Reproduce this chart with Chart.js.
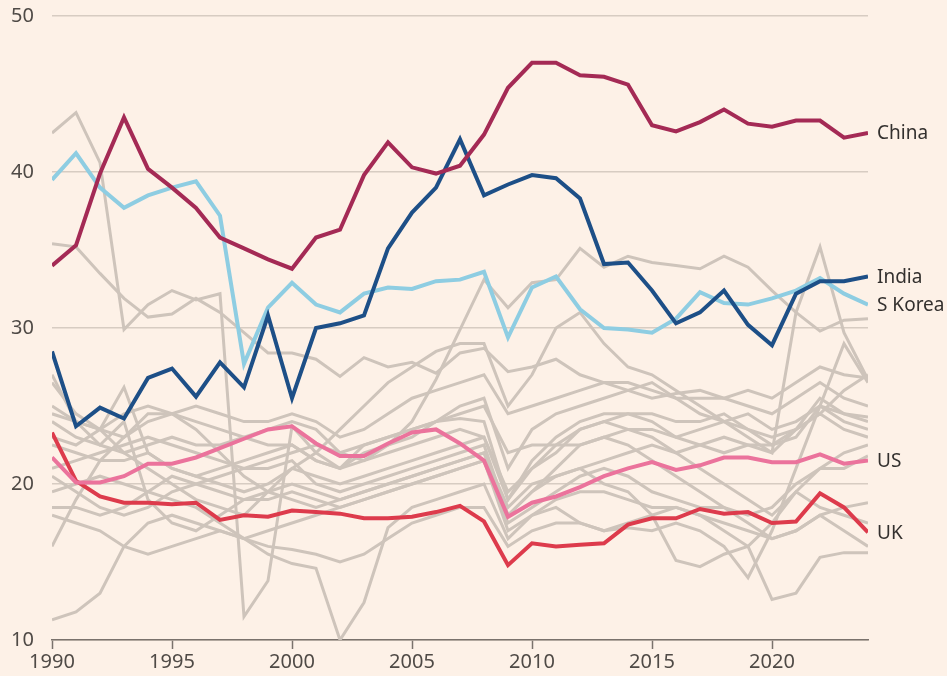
<!DOCTYPE html>
<html>
<head>
    <title>Share of GDP chart</title>
    <style>
        body{
            margin: 0;
            background: #fdf1e7;
        }
        canvas{
            display: block;
        }
    </style>
</head>
<body>
<div style="width:947px;height:676px;">
    <canvas id="chart" width="947" height="676"></canvas>
</div>

<script src="https://cdn.jsdelivr.net/npm/chart.js@4.4.1/dist/chart.umd.min.js"></script>
<script>

    const years = [1990,1991,1992,1993,1994,1995,1996,1997,1998,1999,2000,2001,2002,2003,2004,2005,2006,2007,2008,2009,2010,2011,2012,2013,2014,2015,2016,2017,2018,2019,2020,2021,2022,2023,2024];

    const china = [34.0,35.3,39.9,43.5,40.2,39.0,37.7,35.8,35.1,34.4,33.8,35.8,36.3,39.8,41.9,40.3,39.9,40.4,42.4,45.4,47.0,47.0,46.2,46.1,45.6,43.0,42.6,43.2,44.0,43.1,42.9,43.3,43.3,42.2,42.5];
    const india = [28.5,23.7,24.9,24.2,26.8,27.4,25.6,27.8,26.2,30.8,25.5,30.0,30.3,30.8,35.1,37.4,39.0,42.1,38.5,39.2,39.8,39.6,38.3,34.1,34.2,32.4,30.3,31.0,32.4,30.2,28.9,32.2,33.0,33.0,33.3];
    const sKorea = [39.5,41.2,39.0,37.7,38.5,39.0,39.4,37.2,27.7,31.3,32.9,31.5,31.0,32.2,32.6,32.5,33.0,33.1,33.6,29.4,32.6,33.3,31.2,30.0,29.9,29.7,30.6,32.3,31.6,31.5,31.9,32.4,33.2,32.2,31.5];
    const us = [21.7,20.1,20.1,20.5,21.3,21.3,21.7,22.3,22.9,23.5,23.7,22.6,21.8,21.8,22.6,23.3,23.5,22.6,21.5,17.9,18.8,19.2,19.8,20.5,21.0,21.4,20.9,21.2,21.7,21.7,21.4,21.4,21.9,21.3,21.5];
    const uk = [23.3,20.2,19.2,18.8,18.8,18.7,18.8,17.7,18.0,17.9,18.3,18.2,18.1,17.8,17.8,17.9,18.2,18.6,17.6,14.8,16.2,16.0,16.1,16.2,17.4,17.8,17.8,18.4,18.1,18.2,17.5,17.6,19.4,18.5,16.9];

    // other countries, drawn in grey
    const grey1 = [42.5,43.8,40.6,29.9,31.5,32.4,31.8,32.2,11.5,13.8,23.7,22.0,21.0,22.5,23.0,23.5,24.0,24.2,24.0,19.0,21.5,23.0,24.0,24.5,24.5,24.0,23.0,23.5,24.0,24.5,23.5,24.0,25.0,24.5,24.3];
    const grey2 = [35.4,35.2,33.5,31.9,30.7,30.9,31.9,31.0,29.7,28.4,28.4,28.0,26.9,28.1,27.5,27.8,27.1,28.4,28.7,27.2,27.5,28.0,27.0,26.5,26.0,25.5,25.8,26.0,25.5,25.0,24.5,25.5,26.5,25.5,25.0];
    const grey3 = [11.3,11.8,13.0,16.0,17.5,18.0,17.5,17.0,16.5,16.0,15.8,15.5,15.0,15.5,16.5,17.5,18.0,18.5,18.5,16.0,17.0,17.5,17.5,17.0,17.2,17.0,17.5,17.0,16.0,14.0,17.0,21.0,25.0,29.0,26.5];
    const grey4 = [18.0,17.5,17.0,16.0,15.5,16.0,16.5,17.0,16.5,15.5,14.9,14.6,10.0,12.4,17.2,18.5,19.0,19.5,20.0,16.5,18.0,18.5,17.5,17.0,17.5,18.0,18.5,18.0,17.0,16.0,17.5,19.5,18.5,18.0,17.5];
    const grey5 = [24.5,24.0,23.5,24.5,25.0,24.5,24.0,23.5,23.0,22.5,22.5,21.5,21.0,22.0,22.5,23.0,24.0,25.0,25.5,21.0,23.5,24.5,25.0,25.5,26.0,26.5,25.5,24.5,24.0,23.0,22.0,31.0,35.2,29.7,26.7];
    const grey6 = [21.0,21.5,22.0,22.5,23.0,22.5,22.0,21.5,21.0,21.5,22.0,22.5,22.0,21.5,22.5,24.0,26.7,29.9,33.1,31.3,32.9,33.1,35.1,33.9,34.6,34.2,34.0,33.8,34.6,33.9,32.4,31.0,29.8,30.5,30.6];
    const grey7 = [26.5,24.5,23.5,26.2,22.0,21.0,20.5,20.0,19.5,20.0,21.0,22.0,23.5,25.0,26.5,27.5,28.5,29.0,29.0,25.0,27.0,30.0,31.0,29.0,27.5,27.0,26.0,25.0,24.0,23.5,23.0,23.5,24.5,26.0,27.0];
    const grey8 = [24.0,23.0,22.5,22.0,22.5,23.0,22.5,22.5,23.0,23.5,24.0,23.5,22.0,22.5,23.0,23.5,24.0,24.5,25.0,22.0,22.5,22.5,22.5,23.0,23.5,23.5,23.0,22.5,22.0,22.5,22.5,23.5,24.5,23.5,23.0];
    const grey9 = [22.5,22.0,21.5,21.5,22.0,21.0,20.5,21.0,21.5,22.0,22.5,21.5,21.0,21.5,22.0,22.5,23.0,23.5,23.0,19.5,21.0,22.0,23.5,24.0,24.5,24.5,24.0,24.0,24.5,23.5,22.5,23.0,25.0,24.0,23.5];
    const grey10 = [20.5,19.5,18.5,18.0,18.5,19.5,20.0,20.5,21.0,21.0,21.5,20.0,19.5,20.0,20.5,21.0,21.5,22.0,22.5,18.0,19.5,20.5,21.0,21.5,22.0,22.5,22.0,22.5,23.0,22.5,22.0,23.5,25.5,24.5,24.0];
    const grey11 = [18.5,18.5,18.0,18.5,19.5,20.5,20.0,19.5,19.0,19.0,19.5,19.0,18.5,19.0,19.5,20.0,20.5,21.0,21.5,17.5,18.5,19.5,20.5,21.0,20.5,19.5,19.0,18.5,18.5,18.0,18.5,20.0,21.0,21.0,21.8];
    const grey12 = [25.0,24.0,23.5,23.0,24.5,24.5,25.0,24.5,24.0,24.0,24.5,24.0,23.0,23.5,24.5,25.5,26.0,26.5,27.0,24.5,25.0,25.5,26.0,26.5,26.5,26.0,25.5,25.5,25.5,26.0,25.5,26.5,27.5,27.0,26.8];
    const grey13 = [27.0,24.0,22.5,24.0,19.0,17.5,17.0,18.0,19.0,19.5,20.0,19.5,19.0,19.5,20.0,20.5,21.0,21.5,22.0,18.5,20.0,20.5,21.0,20.0,19.5,18.0,15.1,14.7,15.5,16.0,12.6,13.0,15.3,15.6,15.6];
    const grey14 = [16.0,19.0,21.5,23.0,24.0,24.5,23.5,22.0,20.5,19.5,19.0,18.5,19.0,19.5,20.0,20.5,21.0,21.5,22.0,18.0,19.5,21.0,22.5,23.0,22.5,21.5,20.5,19.5,18.5,17.5,16.5,17.0,18.0,17.0,16.0];
    const grey15 = [23.0,22.5,23.5,22.0,21.0,20.0,19.0,18.5,18.0,19.5,21.0,20.5,20.0,20.5,21.0,21.5,22.0,22.5,23.0,19.0,21.0,22.5,23.5,24.0,23.5,23.0,22.0,21.0,20.0,19.0,18.0,19.5,21.0,22.0,22.5];
    const grey16 = [19.5,20.0,20.5,20.0,19.5,19.0,18.5,17.5,16.5,17.0,17.5,18.0,18.5,19.0,19.5,20.0,20.5,21.0,21.5,17.0,18.0,19.0,19.5,19.5,19.0,18.5,18.5,18.0,17.5,17.0,16.5,17.0,18.0,18.5,18.8];

    const greys = [grey1, grey2, grey3, grey4, grey5, grey6, grey7, grey8, grey9, grey10, grey11, grey12, grey13, grey14, grey15, grey16];

    const yTicks = [10, 20, 30, 40, 50];
    const xTicks = [1990, 1995, 2000, 2005, 2010, 2015, 2020];

    const fontName = "'Noto Sans', 'Open Sans', sans-serif";

    function toPoints(values) {
        return values.map((v, i) => ({x: years[i], y: v}));
    }

    function highlight(label, values, color) {
        return {
            label: label,
            data: toPoints(values),
            borderColor: color,
            borderWidth: 4,
            pointRadius: 0,
            tension: 0,
            fill: false
        };
    }

    // first dataset is drawn on top, so the coloured ones go first
    const datasets = [
        highlight("China", china, "#a42a55"),
        highlight("India", india, "#1d4f87"),
        highlight("S Korea", sKorea, "#8ecde2"),
        highlight("US", us, "#eb739c"),
        highlight("UK", uk, "#dd3b4c")
    ];

    greys.forEach((g, i) => {
        datasets.push({
            label: "other" + i,
            data: toPoints(g),
            borderColor: "#cec4bb",
            borderWidth: 3,
            pointRadius: 0,
            tension: 0,
            fill: false
        });
    });

    // names at the end of the coloured lines
    const endLabels = {
        id: "endLabels",
        afterDatasetsDraw(chart) {
            const ctx = chart.ctx;
            const yScale = chart.scales.y;
            ctx.save();
            ctx.font = "19px " + fontName;
            ctx.fillStyle = "#33302e";
            ctx.textBaseline = "middle";
            ctx.textAlign = "left";
            for (let i = 0; i < 5; i++) {
                const ds = chart.data.datasets[i];
                const last = ds.data[ds.data.length - 1].y;
                ctx.fillText(ds.label, chart.chartArea.right + 9, yScale.getPixelForValue(last) + 1);
            }
            ctx.restore();
        }
    };

    const chart = new Chart("chart", {
        type: "line",
        data: { datasets: datasets },
        options: {
            responsive: false,
            animation: false,
            layout: { padding: { top: 16, right: 79, left: 0, bottom: 0 } },
            plugins: {
                legend: { display: false },
                tooltip: { enabled: false }
            },
            scales: {
                x: {
                    type: "linear",
                    min: 1990,
                    max: 2024,
                    afterBuildTicks: scale => {
                        scale.ticks = xTicks.map(v => ({value: v}));
                    },
                    afterFit: scale => {
                        scale.height = 36;
                        scale.paddingLeft = 0;
                        scale.paddingRight = 0;
                    },
                    ticks: {
                        callback: v => String(v),
                        color: "#4f4a46",
                        font: { family: fontName, size: 20 },
                        padding: 1,
                        maxRotation: 0
                    },
                    grid: {
                        drawOnChartArea: false,
                        drawTicks: true,
                        tickLength: 9,
                        tickColor: "#7a726c",
                        tickWidth: 1.5
                    },
                    border: { display: true, color: "#7a726c", width: 1.5 }
                },
                y: {
                    min: 10,
                    max: 50,
                    afterBuildTicks: scale => {
                        scale.ticks = yTicks.map(v => ({value: v}));
                    },
                    afterFit: scale => {
                        scale.width = 52;
                        scale.paddingTop = 0;
                        scale.paddingBottom = 0;
                    },
                    ticks: {
                        color: "#4f4a46",
                        font: { family: fontName, size: 20 },
                        padding: 18
                    },
                    grid: {
                        color: "#d7ccc2",
                        lineWidth: 1.5,
                        drawTicks: false
                    },
                    border: { display: false }
                }
            }
        },
        plugins: [endLabels]
    });

</script>
</body>
</html>
